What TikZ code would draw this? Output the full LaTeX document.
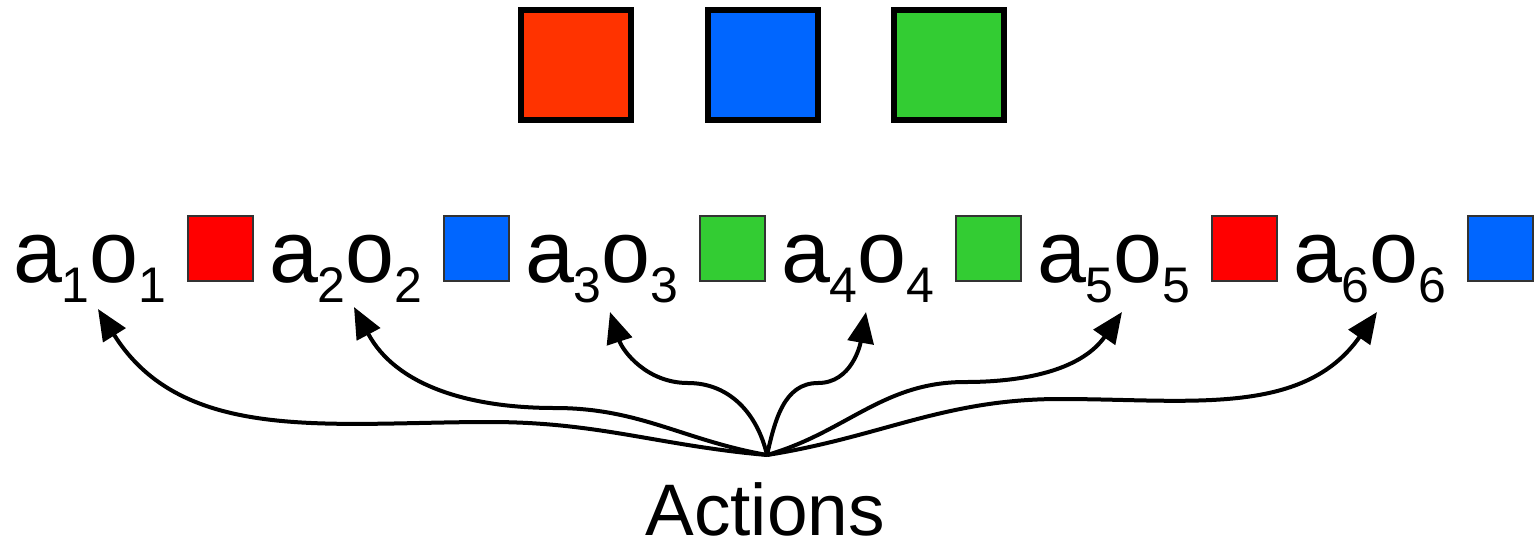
\documentclass[tikz,border=0pt]{standalone}
\usepackage{fontspec}
\setmainfont{Liberation Sans}
\usetikzlibrary{arrows.meta}
\definecolor{bigred}{HTML}{FF3300}
\definecolor{obsred}{HTML}{FF0000}
\definecolor{obsblue}{HTML}{0066FF}
\definecolor{obsgreen}{HTML}{33CC33}
\newcommand{\subtext}[1]{\raisebox{-20pt}{\fontsize{50}{50}\selectfont #1}}
\newcommand{\pair}[1]{a\subtext{#1}o\subtext{#1}}
\tikzset{
  bigbox/.style={draw=black, line width=6pt},
  obsbox/.style={draw=black!80, line width=1.5pt},
  pairlabel/.style={anchor=base west, inner sep=0pt, outer sep=0pt,
    font=\fontsize{88}{88}\selectfont},
  arr/.style={line width=4pt, -{Triangle[length=31pt, width=26pt]}},
}
\begin{document}
\begin{tikzpicture}[x=1pt, y=-1pt]
\useasboundingbox (0,0) rectangle (1534,542);

% colour key
\draw[bigbox, fill=bigred]   (521,10) rectangle (631,120);
\draw[bigbox, fill=obsblue]  (708,10) rectangle (818,120);
\draw[bigbox, fill=obsgreen] (894,10) rectangle (1004,120);

% action/observation sequence
\foreach \i/\c in {1/obsred, 2/obsblue, 3/obsgreen, 4/obsgreen, 5/obsred, 6/obsblue} {
  \node[pairlabel] (lab\i) at ({13+256*(\i-1)}, 282) {\pair{\i}};
  \draw[obsbox, fill=\c] ({188+256*(\i-1)},216) rectangle ({253+256*(\i-1)},281);
}

% arrow targets and common source
\coordinate (t1) at (98,309);
\coordinate (t2) at (354,307);
\coordinate (t3) at (610,312);
\coordinate (t4) at (866,312);
\coordinate (t5) at (1122,312);
\coordinate (t6) at (1377,312);
\coordinate (src) at (767,455);

\node[anchor=base, inner sep=0pt, text depth=0pt, font=\fontsize{73}{73}\selectfont] (actions) at (765,535) {Actions};

\draw[arr] (src) to[out=175,in=0] (490,422) to[out=180,in=-58] (t1);
\draw[arr] (src) to[out=170,in=0] (555,408) to[out=180,in=-62] (t2);
\draw[arr] (src) to[out=103,in=0] (688,383) to[out=180,in=-72] (t3);
\draw[arr] (src) to[out=77,in=180] (818,383) to[out=0,in=-100] (t4);
\draw[arr] (src) to[out=16,in=180] (965,382) to[out=0,in=-125] (t5);
\draw[arr] (src) to[out=9,in=180] (1060,399) to[out=0,in=-125] (t6);
\end{tikzpicture}
\end{document}
